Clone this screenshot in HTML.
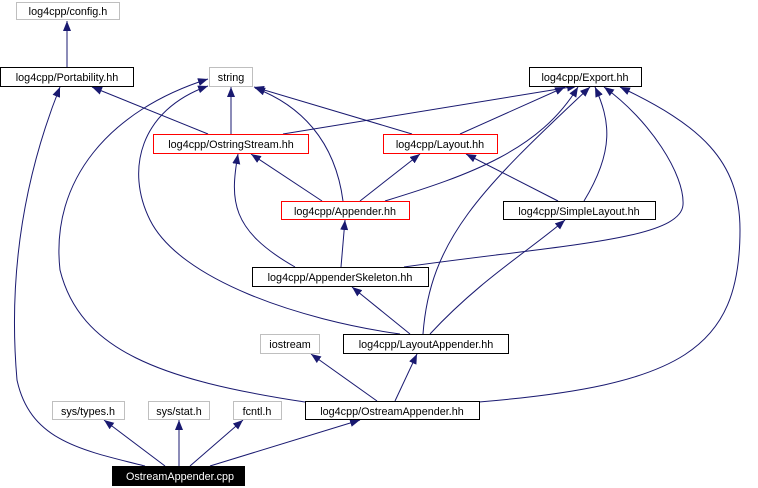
<!DOCTYPE html>
<html><head><meta charset="utf-8"><style>
html,body{margin:0;padding:0;background:#fff;}
svg{display:block;}
text{font-family:"Liberation Sans",sans-serif;font-size:10.8px;}
</style></head><body>
<svg width="758" height="488" viewBox="0 0 758 488" xmlns="http://www.w3.org/2000/svg">
<defs>
<marker id="a" viewBox="0 0 10 8" refX="10" refY="4" markerWidth="10" markerHeight="8" markerUnits="userSpaceOnUse" orient="auto">
<path d="M0,0 L10,4 L0,8 Z" fill="#191970"/>
</marker>
</defs>
<g fill="none" stroke="#191970" stroke-width="1" marker-end="url(#a)">
<path d="M67,67 L67,21"/>
<path d="M208,134 L92,87"/>
<path d="M231,134 L231,87"/>
<path d="M283,134 L577,86"/>
<path d="M412,134 L254,87"/>
<path d="M460,134 L565,87"/>
<path d="M322,201 L251,154"/>
<path d="M360,201 L420,154"/>
<path d="M558,201 L466,154"/>
<path d="M343,201 C335,140 300,105 255,88"/>
<path d="M385,201 C470,175 540,150 578,87"/>
<path d="M584,201 C615,150 610,120 595,87"/>
<path d="M341,267 L345,220"/>
<path d="M295,267 C230,230 230,200 238,154"/>
<path d="M404,267 C560,245 680,240 683,205 C685,175 650,120 604,87"/>
<path d="M410,334 L352,287"/>
<path d="M430,334 C480,280 530,250 565,220"/>
<path d="M423,334 C430,240 480,190 590,87"/>
<path d="M400,334 C300,320 180,280 150,220 C125,170 140,110 208,86"/>
<path d="M377,401 L311,354"/>
<path d="M395,401 L417,354"/>
<path d="M305,402 C160,380 80,350 60,270 C50,180 110,110 208,79"/>
<path d="M479,402 C680,385 740,350 740,230 C740,160 700,125 620,87"/>
<path d="M145,466 C80,450 30,440 17,380 C10,300 15,200 60,87"/>
<path d="M165,466 L104,420"/>
<path d="M179,466 L179,420"/>
<path d="M190,466 L243,420"/>
<path d="M210,466 L360,420"/>
</g>
<g stroke-width="1">
<rect x="16.5" y="2.5" width="103" height="17" fill="#fff" stroke="#bfbfbf"/>
<rect x="0.5" y="67.5" width="133" height="19" fill="#fff" stroke="#000"/>
<rect x="209.5" y="67.5" width="43" height="19" fill="#fff" stroke="#bfbfbf"/>
<rect x="529.5" y="67.5" width="112" height="19" fill="#fff" stroke="#000"/>
<rect x="153.5" y="134.5" width="155" height="19" fill="#fff" stroke="#f00"/>
<rect x="383.5" y="134.5" width="114" height="19" fill="#fff" stroke="#f00"/>
<rect x="281.5" y="201.5" width="128" height="18" fill="#fff" stroke="#f00"/>
<rect x="503.5" y="201.5" width="152" height="18" fill="#fff" stroke="#000"/>
<rect x="252.5" y="267.5" width="176" height="19" fill="#fff" stroke="#000"/>
<rect x="260.5" y="334.5" width="59" height="19" fill="#fff" stroke="#bfbfbf"/>
<rect x="343.5" y="334.5" width="165" height="19" fill="#fff" stroke="#000"/>
<rect x="52.5" y="401.5" width="72" height="18" fill="#fff" stroke="#bfbfbf"/>
<rect x="148.5" y="401.5" width="61" height="18" fill="#fff" stroke="#bfbfbf"/>
<rect x="233.5" y="401.5" width="48" height="18" fill="#fff" stroke="#bfbfbf"/>
<rect x="305.5" y="401.5" width="174" height="18" fill="#fff" stroke="#000"/>
<rect x="112" y="466" width="133" height="20" fill="#000"/>
</g>
<g text-anchor="middle" fill="#000">
<text x="68" y="15">log4cpp/config.h</text>
<text x="67" y="81">log4cpp/Portability.hh</text>
<text x="231" y="81">string</text>
<text x="585" y="81">log4cpp/Export.hh</text>
<text x="231" y="148">log4cpp/OstringStream.hh</text>
<text x="440" y="148">log4cpp/Layout.hh</text>
<text x="345" y="215">log4cpp/Appender.hh</text>
<text x="579" y="215">log4cpp/SimpleLayout.hh</text>
<text x="340" y="281">log4cpp/AppenderSkeleton.hh</text>
<text x="290" y="348">iostream</text>
<text x="426" y="348">log4cpp/LayoutAppender.hh</text>
<text x="88" y="415">sys/types.h</text>
<text x="179" y="415">sys/stat.h</text>
<text x="257" y="415">fcntl.h</text>
<text x="392" y="415">log4cpp/OstreamAppender.hh</text>
<text x="180" y="480" fill="#fff">OstreamAppender.cpp</text>
</g>
</svg>
</body></html>
